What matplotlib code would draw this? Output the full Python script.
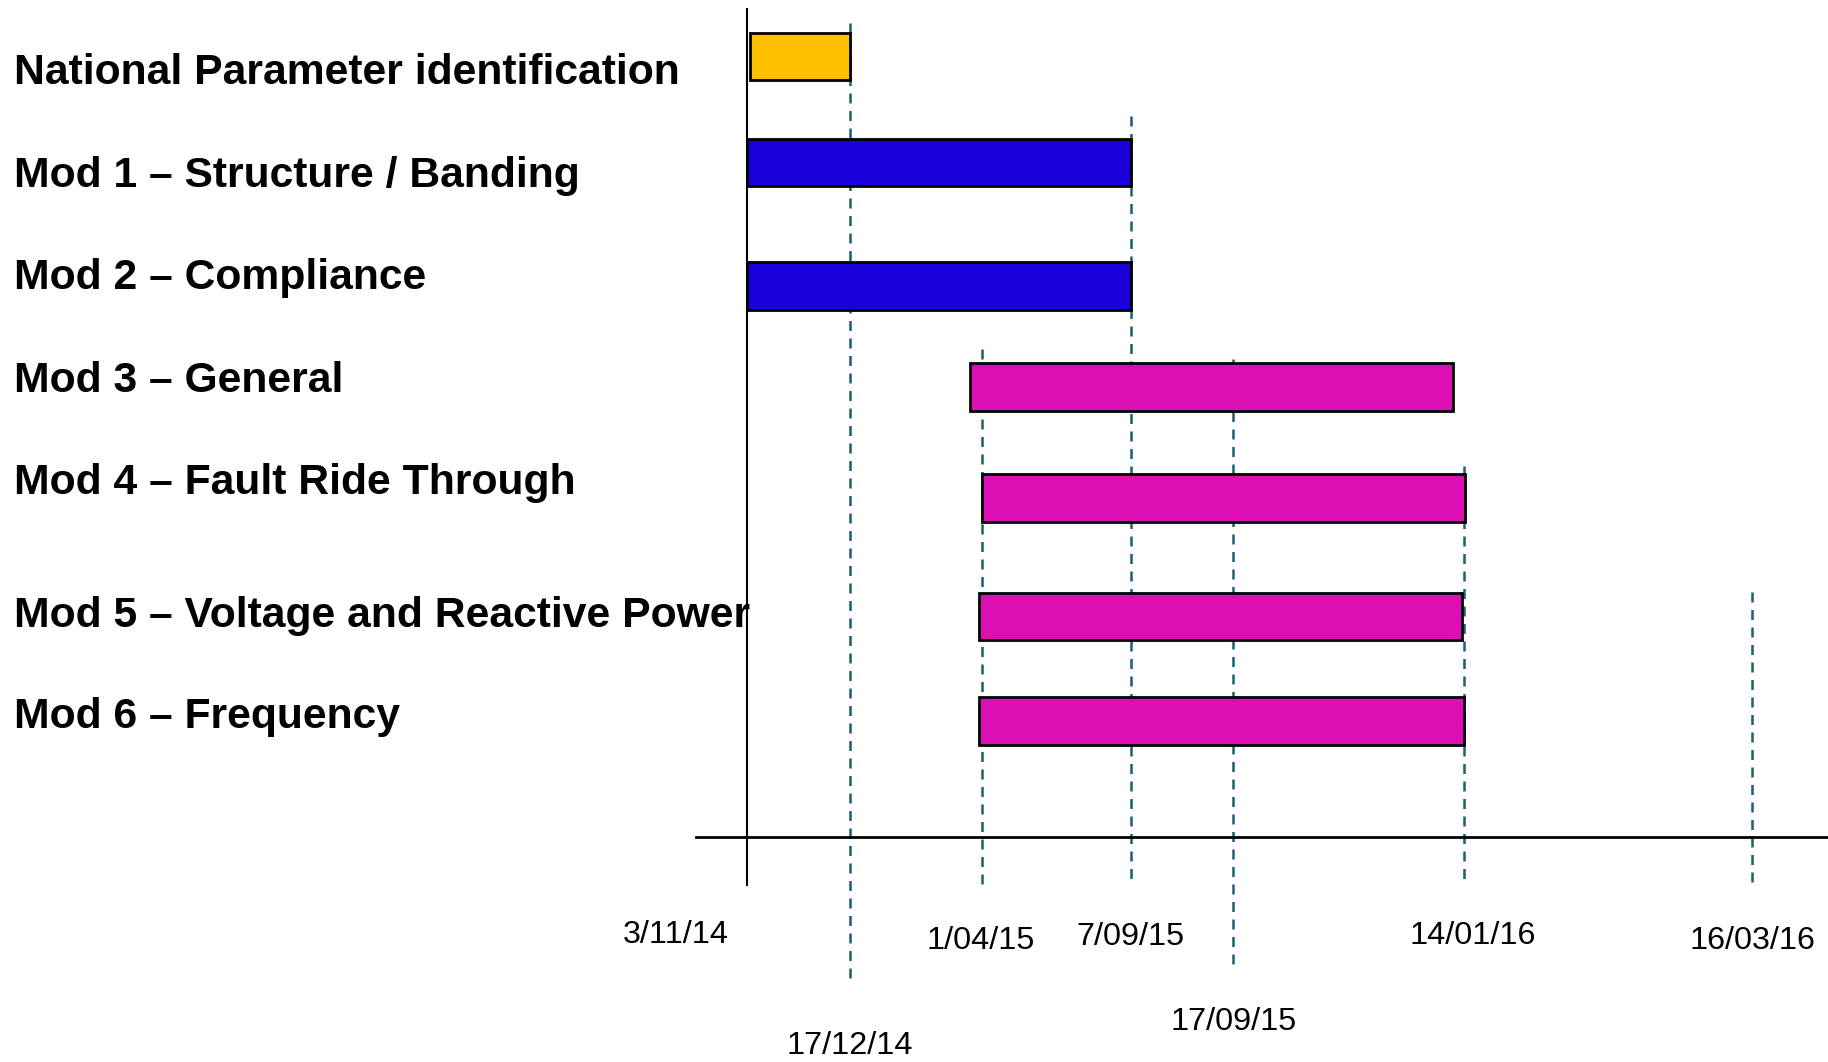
import matplotlib
matplotlib.use('agg')
import matplotlib.pyplot as plt

# tasks (timeline units: 0 = 3/11/14, scale as drawn on the slide)
tasks = ['National Parameter identification',
         'Mod 1 \u2013 Structure / Banding',
         'Mod 2 \u2013 Compliance',
         'Mod 3 \u2013 General',
         'Mod 4 \u2013 Fault Ride Through',
         'Mod 5 \u2013 Voltage and Reactive Power',
         'Mod 6 \u2013 Frequency']
task_start = [0.2, 0.0, 0.0, 19.1, 20.1, 19.9, 19.9]
task_end = [8.8, 32.9, 32.9, 60.5, 61.6, 61.3, 61.5]
task_colors = ['#FFC000', '#1A00D8', '#1A00D8', '#DD0FB4', '#DD0FB4', '#DD0FB4', '#DD0FB4']

# milestones
milestones = ['3/11/14', '17/12/14', '1/04/15', '7/09/15', '17/09/15', '14/01/16', '16/03/16']
milestone_pos = [0.0, 8.8, 20.1, 32.9, 41.7, 61.5, 86.2]

# layout
bar_y = [4.85, 13.95, 24.55, 33.25, 42.75, 52.95, 61.9]
label_y = [6.3, 15.1, 23.9, 32.7, 41.5, 52.9, 61.6]
line_top = [None, 2.0, 30.0, 10.0, 30.8, 40.0, 50.8]
line_bot = [None, 84.6, 76.0, 75.7, 83.0, 76.0, 75.7]
ms_label_x = [-6.1, 8.8, 20.0, 32.9, 41.7, 62.2, 86.2]
ms_label_y = [80.3, 89.8, 80.8, 80.5, 87.8, 80.4, 80.8]

plt.rcParams['font.family'] = ['Liberation Sans', 'DejaVu Sans']

fig = plt.figure(figsize=(18.28, 10.62), dpi=100)
ax = fig.add_axes([0, 0, 1, 1])
ax.set_xlim(-64.1, 92.7)
ax.set_ylim(91.2, 0)
ax.axis('off')

# dashed milestone lines
for i in range(1, len(milestones)):
    ax.plot([milestone_pos[i], milestone_pos[i]], [line_top[i], line_bot[i]],
            color='#1a5f73', lw=1.8, dashes=(4, 3), zorder=1)

# bars
ax.barh(bar_y, [e - s for s, e in zip(task_start, task_end)], left=task_start,
        height=4.1, color=task_colors, edgecolor='black', linewidth=2, zorder=2)

# axes lines
ax.plot([0, 0], [0.8, 76.0], color='black', lw=1.5, zorder=3)
ax.plot([-4.4, 92.7], [71.9, 71.9], color='black', lw=2, zorder=3)

for t, y in zip(tasks, label_y):
    ax.text(-62.9, y, t, fontsize=30.7, fontweight='bold', ha='left', va='center', zorder=4)

for m, x, y in zip(milestones, ms_label_x, ms_label_y):
    ax.text(x, y, m, fontsize=23.3, ha='center', va='center')

plt.savefig('out.png', dpi=100)
